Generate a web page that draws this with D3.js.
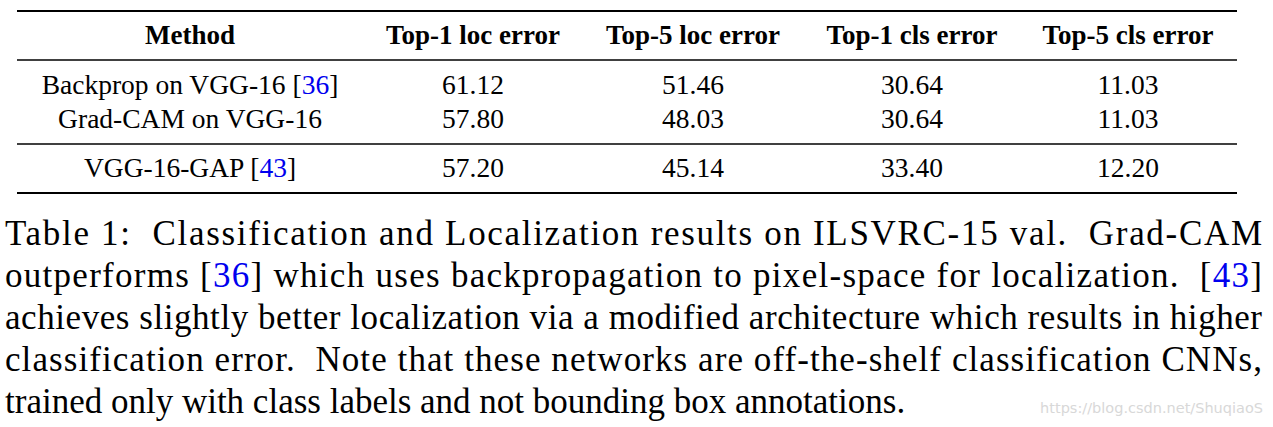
<!DOCTYPE html>
<html><head><meta charset="utf-8">
<script src="https://cdn.jsdelivr.net/npm/d3@7"></script>
<style>body{margin:0;background:#fff} svg text{font-family:"Liberation Serif","Times New Roman",Times,"DejaVu Serif",serif}</style></head>
<body><script>
const headers = ["Method","Top-1 loc error","Top-5 loc error","Top-1 cls error","Top-5 cls error"];
const methods = [["Backprop on VGG-16 ","36"],["Grad-CAM on VGG-16",null],["VGG-16-GAP ","43"]];
const top1Loc = ["61.12","57.80","57.20"];
const top5Loc = ["51.46","48.03","45.14"];
const top1Cls = ["30.64","30.64","33.40"];
const top5Cls = ["11.03","11.03","12.20"];
const captionLines = [
 [["Table 1:  Classification and Localization results on ILSVRC-15 val.  Grad-CAM",0]],
 [["outperforms [",0],["36",1],["] which uses backpropagation to pixel-space for localization.  [",0],["43",1],["]",0]],
 [["achieves slightly better localization via a modified architecture which results in higher",0]],
 [["classification error.  Note that these networks are off-the-shelf classification CNNs,",0]],
 [["trained only with class labels and not bounding box annotations.",0]]
];
const W=1273,H=427;
const svg=d3.select("body").append("svg").attr("width",W).attr("height",H);
const colX=[190,473,693,912,1128];
const blue="#0000ee";
const rowY=d3.scaleOrdinal().domain([0,1,2]).range([94,128,177]);
[[11,2.2],[60,1.4],[144,1.4],[193,2.2]].forEach(([y,w])=>svg.append("line").attr("x1",17).attr("x2",1237).attr("y1",y).attr("y2",y).attr("stroke","#000").attr("stroke-width",w));
svg.selectAll("text.h").data(headers).join("text").attr("class","h").attr("x",(d,i)=>colX[i]).attr("y",44)
 .attr("text-anchor","middle").attr("font-weight","bold").attr("font-size",27).text(d=>d);
methods.forEach((m,i)=>{
 const t=svg.append("text").attr("x",colX[0]).attr("y",rowY(i)).attr("text-anchor","middle").attr("font-size",27.5);
 t.append("tspan").text(m[0]+(m[1]?"[":""));
 if(m[1]){t.append("tspan").attr("fill",blue).text(m[1]);t.append("tspan").text("]");}
});
[top1Loc,top5Loc,top1Cls,top5Cls].forEach((col,c)=>{
 svg.selectAll(null).data(col).join("text").attr("x",colX[c+1]).attr("y",(d,i)=>rowY(i))
  .attr("text-anchor","middle").attr("font-size",27.5).text(d=>d);
});
captionLines.forEach((line,i)=>{
 const t=svg.append("text").attr("x",5).attr("y",245+i*42).attr("font-size",35).style("white-space","pre");
 line.forEach(([s,b])=>t.append("tspan").attr("fill",b?blue:"#000").text(s));
 if(i<captionLines.length-1){t.attr("textLength",1257).attr("lengthAdjust","spacing");}
});
svg.append("text").attr("x",1263).attr("y",413).attr("text-anchor","end").style("font-family","'DejaVu Sans',sans-serif")
 .attr("font-size",14.5).attr("fill","#d8d8d8").text("https://blog.csdn.net/ShuqiaoS");
</script></body></html>
